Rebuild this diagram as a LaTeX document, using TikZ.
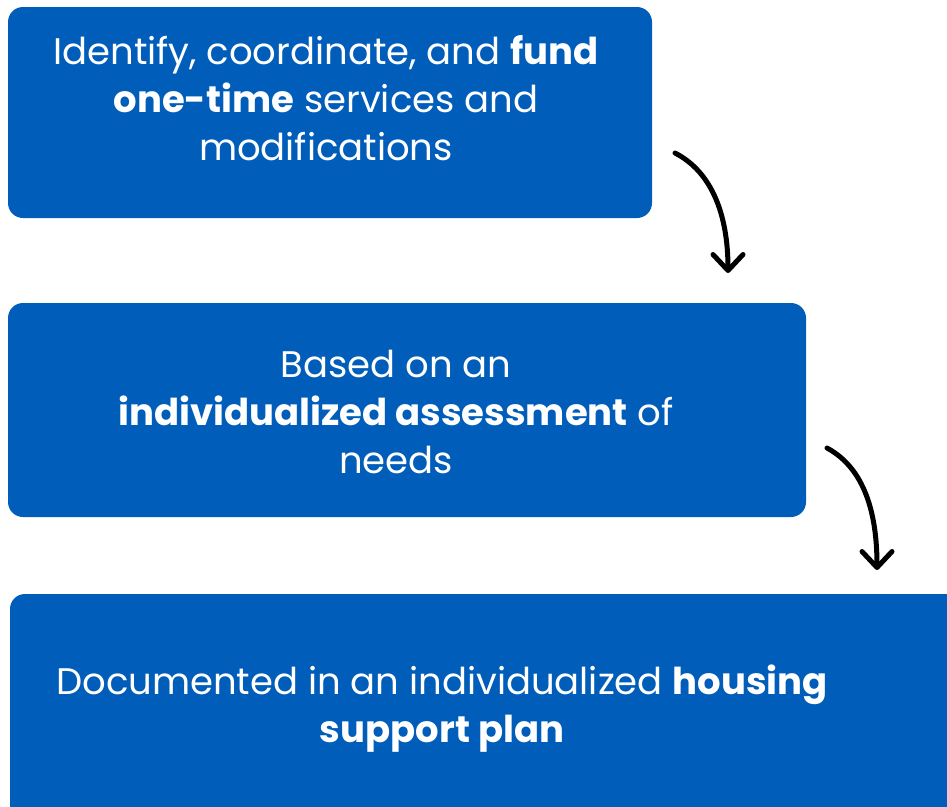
\documentclass[tikz,border=0pt]{standalone}
\usepackage{fontspec}
\setmainfont{Poppins}
\usetikzlibrary{arrows.meta}
\definecolor{stepblue}{HTML}{005DB9}
\begin{document}
\begin{tikzpicture}[x=1pt,y=-1pt,
  steptext/.style={text=white,align=center,inner sep=0pt,anchor=base,
    font=\fontsize{37}{48}\selectfont},
  flow/.style={line width=5pt,line cap=round,
    -{Straight Barb[length=16pt,width=30pt,line width=5pt,round]}}]
\useasboundingbox (0,0) rectangle (947,806);
% boxes
\fill[stepblue,rounded corners=15pt] (8,7) rectangle (652,218);
\node[inner sep=0pt] (box1) at (330,112.5) {};
\fill[stepblue,rounded corners=15pt] (8,303) rectangle (806,517);
\node[inner sep=0pt] (box2) at (407,410) {};
\fill[stepblue,rounded corners=15pt] (10,594) rectangle (980,840);
\node[inner sep=0pt] (box3) at (478,700) {};
% texts (anchored at the baseline of their last line)
\node[steptext] (t1) at (326,160) {Identify, coordinate, and \textbf{fund}\\\textbf{one-time} services and\\modifications};
\node[steptext] (t2) at (396,473) {Based on an\\\textbf{individualized assessment} of\\needs};
\node[steptext] (t3) at (442,742) {Documented in an individualized \textbf{housing}\\\textbf{support plan}};
% connectors
\coordinate (a1s) at (675,153);
\coordinate (a1e) at (728,273);
\coordinate (a2s) at (827,448);
\coordinate (a2e) at (877,570);
\draw[flow] (a1s) .. controls (712,172) and (728,215) .. (a1e);
\draw[flow] (a2s) .. controls (864,468) and (877,512) .. (a2e);
\end{tikzpicture}
\end{document}
